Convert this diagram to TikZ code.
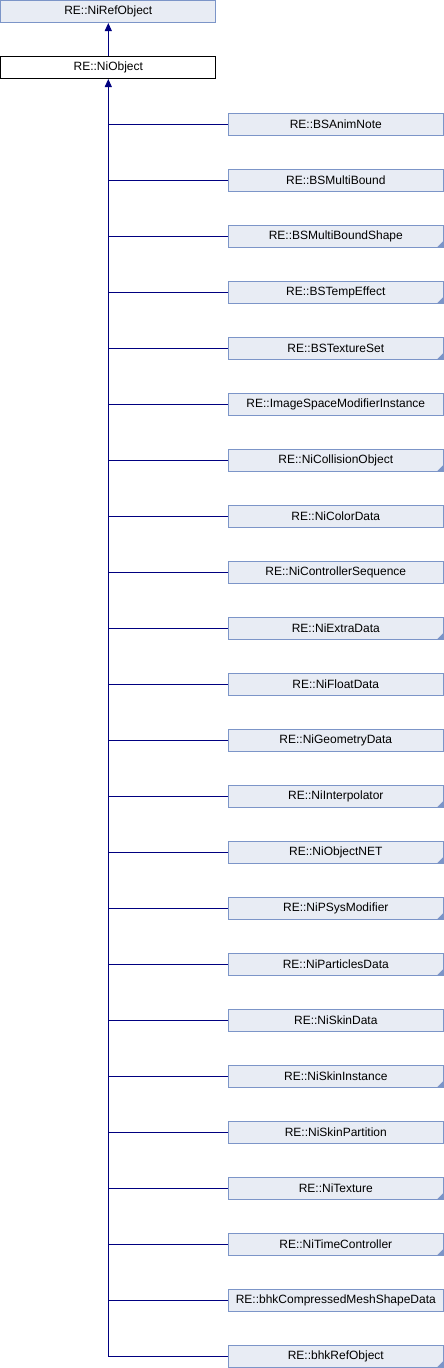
\documentclass[tikz,border=0pt]{standalone}
\usepackage{fontspec}
\setmainfont{Liberation Sans}
\usetikzlibrary{arrows.meta}
\definecolor{boxfill}{RGB}{232,236,244}
\definecolor{boxline}{RGB}{124,149,200}
\definecolor{edgeblue}{RGB}{0,0,128}
\tikzset{
  cls/.style={draw=boxline,fill=boxfill,line width=1pt,minimum width=215pt,
    minimum height=22pt,inner sep=0pt,font=\fontsize{12}{14}\selectfont},
  leaf/.style={},
  more/.style={path picture={\fill[boxline] (path picture bounding box.south east)
    -- ++(-6pt,0pt) -- ++(6pt,6pt) -- cycle;}},
  inh/.style={draw=edgeblue,line width=1pt,-{Triangle[length=8pt,width=7pt]}}
}
\begin{document}
\begin{tikzpicture}[x=1pt,y=-1pt,line cap=butt,line join=miter]
  \useasboundingbox (0,0) rectangle (444,1368);
  % 基类
  \node[cls] (ref) at (108.3,11.5) {RE::NiRefObject};
  \node[cls,draw=black,fill=white] (obj) at (108.3,67.5) {RE::NiObject};
  \draw[inh] (obj.north) -- (ref.south);
  % 子类，带角标者还有子类
  \foreach \name/\tri [count=\i from 0] in {BSAnimNote/leaf,BSMultiBound/leaf,
      BSMultiBoundShape/more,BSTempEffect/more,BSTextureSet/more,
      ImageSpaceModifierInstance/leaf,NiCollisionObject/more,NiColorData/leaf,
      NiControllerSequence/leaf,NiExtraData/more,NiFloatData/leaf,
      NiGeometryData/leaf,NiInterpolator/more,NiObjectNET/more,
      NiPSysModifier/more,NiParticlesData/more,NiSkinData/leaf,
      NiSkinInstance/more,NiSkinPartition/leaf,NiTexture/more,
      NiTimeController/more,bhkCompressedMeshShapeData/leaf,bhkRefObject/more} {
    \node[cls,\tri] (c\i) at (335.8,124+56*\i) {RE::\name};
    \draw[edgeblue,line width=1pt] (obj.south |- c\i.west) -- (c\i.west);
  }
  % 主干
  \draw[inh] (obj.south |- c22.west) -- (obj.south);
\end{tikzpicture}
\end{document}
